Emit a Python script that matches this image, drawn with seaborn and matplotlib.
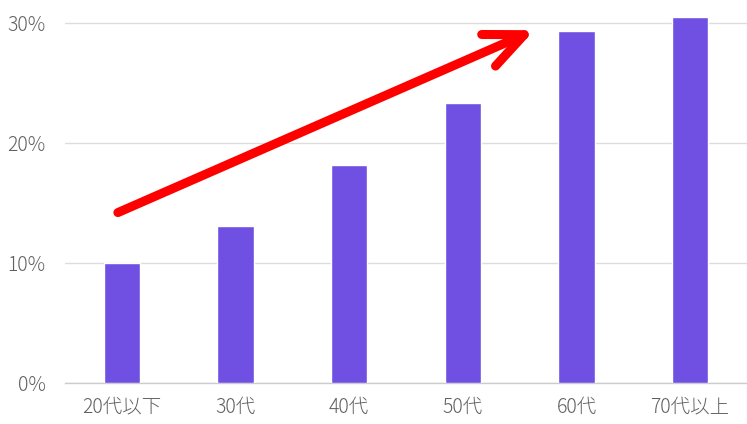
import numpy as np
import pandas as pd
import matplotlib
matplotlib.use("Agg")
import matplotlib.pyplot as plt
from matplotlib.ticker import PercentFormatter
import seaborn as sns

# data
age_groups = ["20代以下", "30代", "40代", "50代", "60代", "70代以上"]
share = [0.100, 0.131, 0.182, 0.233, 0.293, 0.305]
y_ticks = [0.0, 0.1, 0.2, 0.3]

# trend arrow (category index, share)
arrow_start = (-0.035, 0.142)
arrow_end = (3.63, 0.294)

BAR_COLOR = "#7050e3"
TEXT_COLOR = "#606060"

sns.set_style("white")
plt.rcParams["font.family"] = ["Noto Sans CJK JP", "DejaVu Sans"]

df = pd.DataFrame({"age": age_groups, "share": share})

fig = plt.figure(figsize=(7.47, 4.24), dpi=100)
ax = fig.add_axes([65 / 747, 41 / 424, 682 / 747, 378 / 424])

sns.barplot(data=df, x="age", y="share", color=BAR_COLOR, width=0.32,
            saturation=1, ax=ax, zorder=3)

ax.set_ylim(0, 0.315)
ax.set_yticks(y_ticks)
ax.yaxis.set_major_formatter(PercentFormatter(1.0, decimals=0))
ax.grid(axis="y", color="#dddddd", linewidth=1, zorder=0)
ax.set_axisbelow(True)
for side in ["top", "right", "left"]:
    ax.spines[side].set_visible(False)
ax.spines["bottom"].set_color("#cccccc")
ax.spines["bottom"].set_linewidth(1)
ax.tick_params(axis="both", length=0, labelsize=14, labelcolor=TEXT_COLOR)
ax.tick_params(axis="y", pad=14)
ax.tick_params(axis="x", pad=10)
for lbl in ax.get_xticklabels() + ax.get_yticklabels():
    lbl.set_fontweight("light")
ax.set_xlabel("")
ax.set_ylabel("")

ax.annotate("", xy=arrow_end, xytext=arrow_start,
            arrowprops=dict(arrowstyle="->,head_length=1.4,head_width=0.62",
                            color="#ff0000", lw=6.5, capstyle="round",
                            joinstyle="round", mutation_scale=20,
                            shrinkA=0, shrinkB=0),
            zorder=5)

plt.savefig("out.png", dpi=100)
